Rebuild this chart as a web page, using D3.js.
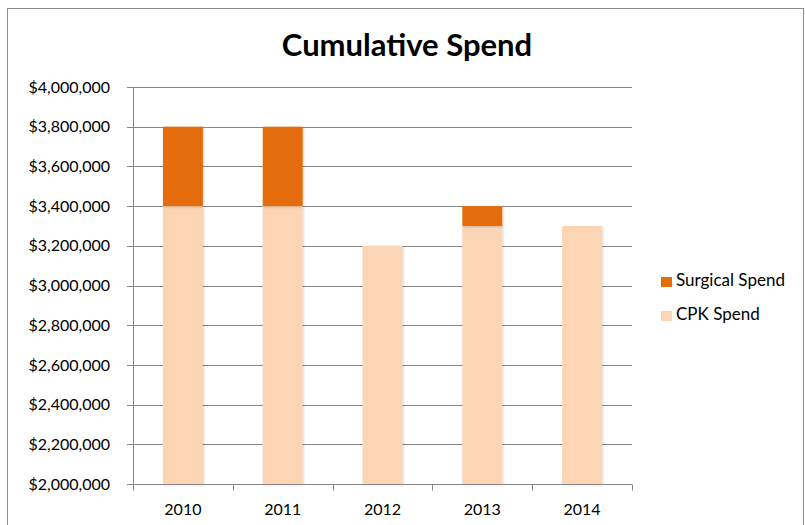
<!DOCTYPE html>
<html>
<head>
<meta charset="utf-8">
<script src="https://cdn.jsdelivr.net/npm/d3@7"></script>
<style>
  body { margin: 0; background: #fff; }
  text { font-family: Lato, "Open Sans", sans-serif; fill: #000; }
</style>
</head>
<body>
<div id="chart"></div>
<script>
// chart data
const years = ["2010", "2011", "2012", "2013", "2014"];
const cpkSpend = [3400000, 3400000, 3200000, 3300000, 3300000];
const surgicalSpend = [400000, 400000, 0, 100000, 0];
const seriesNames = ["Surgical Spend", "CPK Spend"];
const yTicks = [2000000, 2200000, 2400000, 2600000, 2800000, 3000000, 3200000, 3400000, 3600000, 3800000, 4000000];

const W = 805, H = 525;
const margin = {top: 87, left: 133, right: 173, bottom: 41};
const width = W - margin.left - margin.right;
const height = H - margin.top - margin.bottom;

const svg = d3.select("#chart").append("svg")
    .attr("width", W)
    .attr("height", H);

// outer chart border
svg.append("rect")
    .attr("x", 7.5).attr("y", 8.5)
    .attr("width", 796).attr("height", 530)
    .attr("fill", "#fff")
    .attr("stroke", "#8c8c8c")
    .attr("stroke-width", 1);

svg.append("text")
    .attr("x", 407).attr("y", 56)
    .attr("text-anchor", "middle")
    .style("font-size", "31px")
    .style("font-weight", "bold")
    .text("Cumulative Spend");

const g = svg.append("g")
    .attr("transform", `translate(${margin.left},${margin.top})`);

const x = d3.scaleBand()
    .domain(years)
    .range([0, width])
    .paddingInner(0.6)
    .paddingOuter(0.3);

const y = d3.scaleLinear()
    .domain([2000000, 4000000])
    .range([height, 0]);

// gridlines
g.selectAll(".grid")
    .data(yTicks)
    .join("line")
    .attr("class", "grid")
    .attr("x1", -6).attr("x2", width)
    .attr("y1", d => Math.round(y(d)) + 0.5)
    .attr("y2", d => Math.round(y(d)) + 0.5)
    .attr("stroke", "#868686")
    .attr("stroke-width", 1);

const stackData = years.map((yr, i) => ({year: yr, cpk: cpkSpend[i], surgical: surgicalSpend[i]}));

const defs = svg.append("defs");
const shadow = defs.append("filter").attr("id", "shadow")
    .attr("x", "-20%").attr("y", "-20%").attr("width", "140%").attr("height", "140%");
shadow.append("feDropShadow")
    .attr("dx", 1).attr("dy", 1).attr("stdDeviation", 1.2)
    .attr("flood-color", "#000").attr("flood-opacity", 0.18);

// CPK bars
g.selectAll(".cpk-bar")
    .data(stackData)
    .join("rect")
    .attr("class", "cpk-bar")
    .attr("x", d => x(d.year))
    .attr("width", x.bandwidth())
    .attr("y", d => y(d.cpk))
    .attr("height", d => y(2000000) - y(d.cpk))
    .attr("fill", "#FCD5B5")
    .attr("filter", "url(#shadow)");

// Surgical bars on top
g.selectAll(".surg-bar")
    .data(stackData.filter(d => d.surgical > 0))
    .join("rect")
    .attr("class", "surg-bar")
    .attr("x", d => x(d.year))
    .attr("width", x.bandwidth())
    .attr("y", d => y(d.cpk + d.surgical))
    .attr("height", d => y(d.cpk) - y(d.cpk + d.surgical))
    .attr("fill", "#E46C0A")
    .attr("filter", "url(#shadow)");

// y axis
const yAxis = d3.axisLeft(y)
    .tickValues(yTicks)
    .tickSize(6)
    .tickPadding(17)
    .tickFormat(d => "$" + d3.format(",")(d));

const yAxisG = g.append("g").attr("class", "y-axis").call(yAxis);
yAxisG.select(".domain").attr("stroke", "#868686").attr("d", `M0.5,0V${height}`);
yAxisG.selectAll(".tick line").remove();
yAxisG.selectAll("text").style("font-size", "16px").style("font-family", "Lato, sans-serif");

// x axis
const xAxisG = g.append("g")
    .attr("class", "x-axis")
    .attr("transform", `translate(0,${Math.round(height) + 0.5})`);
xAxisG.append("line")
    .attr("x1", 0).attr("x2", width)
    .attr("stroke", "#868686");
const step = width / years.length;
xAxisG.selectAll(".xtick")
    .data(d3.range(years.length + 1))
    .join("line")
    .attr("class", "xtick")
    .attr("x1", i => Math.round(i * step) + 0.5)
    .attr("x2", i => Math.round(i * step) + 0.5)
    .attr("y1", 0).attr("y2", 6)
    .attr("stroke", "#868686");
xAxisG.selectAll(".xlabel")
    .data(years)
    .join("text")
    .attr("class", "xlabel")
    .attr("x", d => x(d) + x.bandwidth() / 2)
    .attr("y", 30)
    .attr("text-anchor", "middle")
    .style("font-size", "16px")
    .text(d => d);

// legend
const legendColors = ["#E46C0A", "#FCD5B5"];
const legend = svg.append("g").attr("transform", "translate(661,277)");
const items = legend.selectAll(".item")
    .data(seriesNames)
    .join("g")
    .attr("class", "item")
    .attr("transform", (d, i) => `translate(0,${i * 34})`);
items.append("rect")
    .attr("width", 11).attr("height", 10)
    .attr("fill", (d, i) => legendColors[i]);
items.append("text")
    .attr("x", 15).attr("y", 9)
    .style("font-size", "17px")
    .text(d => d);
</script>
</body>
</html>
